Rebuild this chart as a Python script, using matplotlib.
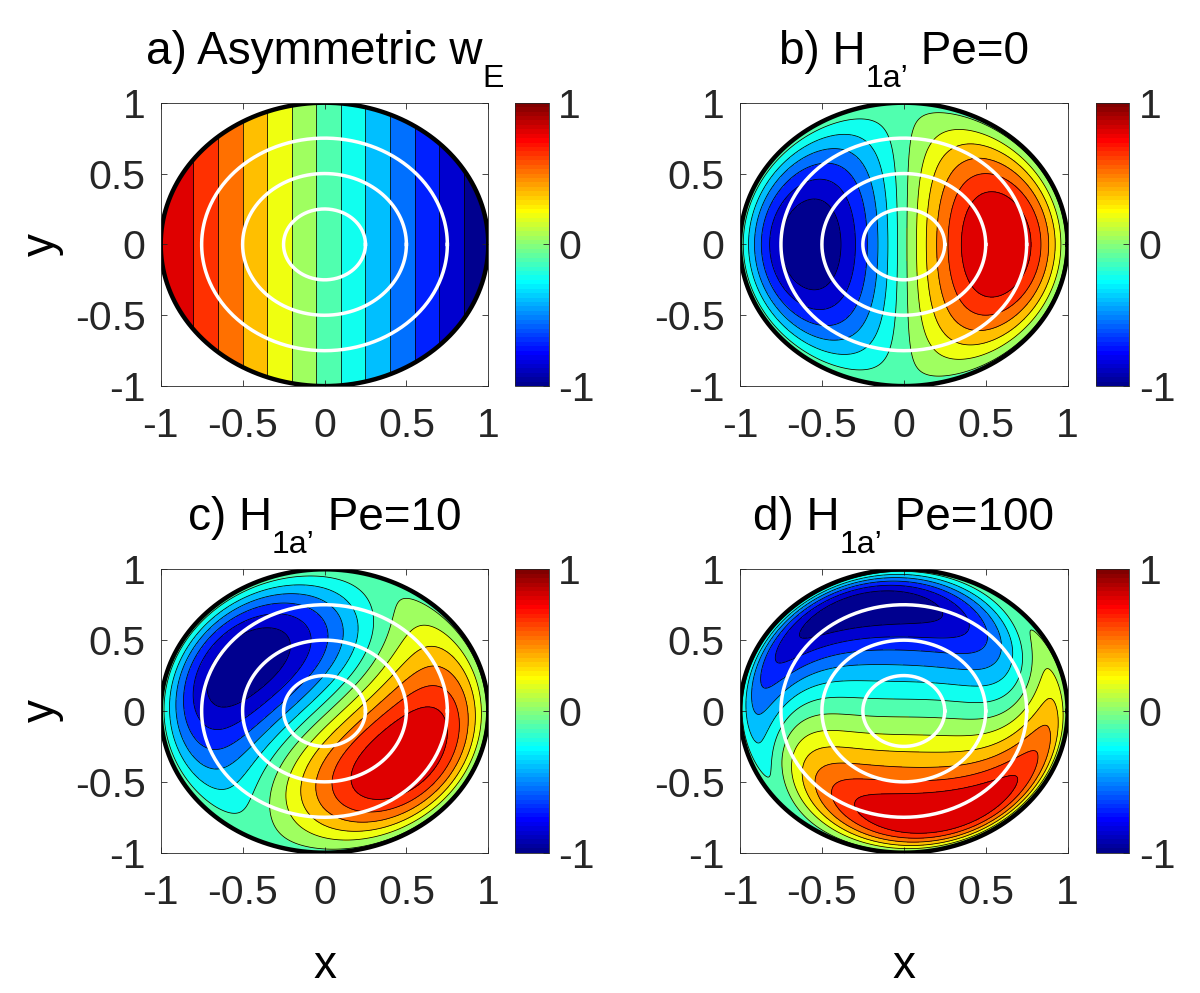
import numpy as np
import matplotlib
matplotlib.use("Agg")
import matplotlib.pyplot as plt
from matplotlib.transforms import IdentityTransform
from matplotlib.colors import Normalize, ListedColormap
from matplotlib.cm import ScalarMappable

plt.rcParams['font.family'] = ['Liberation Sans', 'DejaVu Sans']
plt.rcParams['axes.unicode_minus'] = False

# ---- chart content ----
title_main = ['a) Asymmetric w', 'b) H', 'c) H', 'd) H']
title_sub = ['E', '1a\u2019', '1a\u2019', '1a\u2019']
title_tail = ['', ' Pe=0', ' Pe=10', ' Pe=100']
peclet = [None, 0, 10, 100]          # None -> the forcing w_E itself
streamline_r = [0.25, 0.5, 0.75]     # white circles
line_levels = [-0.85, -0.7, -0.55, -0.4, -0.25, -0.1, 0.05, 0.2, 0.35, 0.5, 0.65, 0.8]
ticks = [-1, -0.5, 0, 0.5, 1]
tick_labels = ['-1', '-0.5', '0', '0.5', '1']
cbar_ticks = [-1, 0, 1]
cbar_labels = ['-1', '0', '1']

W, H = 1200, 993
FS_TICK = 29.5
FS_TITLE = 33
FS_SUB = 23
GREY = '#262626'


def matlab_jet(m=64):
    n = int(np.ceil(m / 4))
    u = np.r_[np.arange(1, n + 1) / n, np.ones(n - 1), np.arange(n, 0, -1) / n]
    g = int(np.ceil(n / 2)) - (1 if m % 4 == 1 else 0) + np.arange(1, len(u) + 1)
    r = g + n
    b = g - n
    cols = np.zeros((m, 3))
    k = r <= m
    cols[r[k] - 1, 0] = u[k]
    k = g <= m
    cols[g[k] - 1, 1] = u[k]
    k = b >= 1
    cols[b[k] - 1, 2] = u[k]
    return cols


jet = matlab_jet(64)
cmap = ListedColormap(jet)


def jet_color(v):
    idx = min(int((v + 1) / 2 * len(jet)), len(jet) - 1)
    return tuple(jet[idx])


def radial_profile(pe, n=400):
    # m=1 mode of  lap(H) + i*Pe*H = -8 r  (solid-body swirl), H(1)=0
    r = np.linspace(0, 1, n + 1)
    h = r[1] - r[0]
    ri = r[1:-1]
    m = len(ri)
    A = np.zeros((m, m), complex)
    k = np.arange(m)
    A[k, k] = -2 / h**2 - 1 / ri**2 + 1j * pe
    A[k[1:], k[1:] - 1] = 1 / h**2 - 1 / (2 * h * ri[1:])
    A[k[:-1], k[:-1] + 1] = 1 / h**2 + 1 / (2 * h * ri[:-1])
    f = np.zeros(n + 1, complex)
    f[1:-1] = np.linalg.solve(A, -8 * ri)
    return r, f / np.abs(f).max()


theta = np.linspace(0, 2 * np.pi, 361)

fig = plt.figure(figsize=(W / 100, H / 100), dpi=100)
renderer = fig.canvas.get_renderer()

ax_left = [160.7, 740.0]
ax_top = [102.7, 569.3]
ax_w, ax_h = 327.6, 283.4
cb_left = [515.3, 1095.7]
cb_w = 33.3

edges = [-1.001] + line_levels + [1.001]
band_colors = [jet_color(-1)] + [jet_color(v) for v in line_levels]

for i in range(4):
    row, col = divmod(i, 2)
    x0, y0 = ax_left[col], ax_top[row]
    ax = fig.add_axes([x0 / W, (H - y0 - ax_h) / H, ax_w / W, ax_h / H])

    if peclet[i] is None:
        r = np.linspace(0, 1, 201)
        R, T = np.meshgrid(r, theta)
        Z = -R * np.cos(T)
    else:
        r, f = radial_profile(peclet[i])
        R, T = np.meshgrid(r, theta)
        Z = np.real(f[None, :] * np.exp(1j * theta)[:, None])
    X = R * np.cos(T)
    Y = R * np.sin(T)

    ax.contourf(X, Y, Z, levels=edges, colors=band_colors)
    ax.contour(X, Y, Z, levels=line_levels, colors='k', linewidths=0.55,
               linestyles='solid')
    for rr in streamline_r:
        ax.plot(rr * np.cos(theta), rr * np.sin(theta), color='white', lw=2.5)
    ax.plot(np.cos(theta), np.sin(theta), color='k', lw=3.2)

    ax.set_xlim(-1, 1)
    ax.set_ylim(-1, 1)
    ax.set_xticks(ticks)
    ax.set_xticklabels(tick_labels)
    ax.set_yticks(ticks)
    ax.set_yticklabels(tick_labels)
    ax.tick_params(direction='in', length=4, width=0.6, colors=GREY,
                   labelsize=FS_TICK, top=True, right=True)
    ax.tick_params(axis='x', pad=15)
    ax.tick_params(axis='y', pad=11)
    for sp in ax.spines.values():
        sp.set_linewidth(0.6)
        sp.set_color(GREY)

    # colorbar
    cax = fig.add_axes([cb_left[col] / W, (H - y0 - ax_h) / H, cb_w / W, ax_h / H])
    cb = fig.colorbar(ScalarMappable(norm=Normalize(-1, 1), cmap=cmap), cax=cax)
    cb.set_ticks(cbar_ticks)
    cb.set_ticklabels(cbar_labels)
    cax.tick_params(direction='in', length=4, width=0.6, colors=GREY,
                    labelsize=FS_TICK, pad=7)
    cb.outline.set_linewidth(0.6)
    cb.outline.set_edgecolor(GREY)

    # title with a dropped subscript, pieced together in pixels
    xc = x0 + ax_w / 2
    base = H - (y0 - 39)
    t1 = fig.text(0, 0, title_main[i], fontsize=FS_TITLE, va='baseline', transform=IdentityTransform())
    t2 = fig.text(0, 0, title_sub[i], fontsize=FS_SUB, va='baseline', transform=IdentityTransform())
    t3 = fig.text(0, 0, title_tail[i], fontsize=FS_TITLE, va='baseline', transform=IdentityTransform())
    w1 = t1.get_window_extent(renderer).width
    w2 = t2.get_window_extent(renderer).width
    w3 = t3.get_window_extent(renderer).width if title_tail[i] else 0
    xs = xc - (w1 + w2 + w3) / 2
    t1.set_position((xs, base))
    t2.set_position((xs + w1, base - 23))
    t3.set_position((xs + w1 + w2, base))

    if col == 0:
        fig.text(42 / W, (H - (y0 + ax_h / 2)) / H, 'y', fontsize=FS_TITLE,
                 rotation=90, ha='center', va='center')
    if row == 1:
        fig.text((x0 + ax_w / 2) / W, (H - 978) / H, 'x', fontsize=FS_TITLE,
                 ha='center', va='baseline')

fig.savefig('out.png', dpi=100)
